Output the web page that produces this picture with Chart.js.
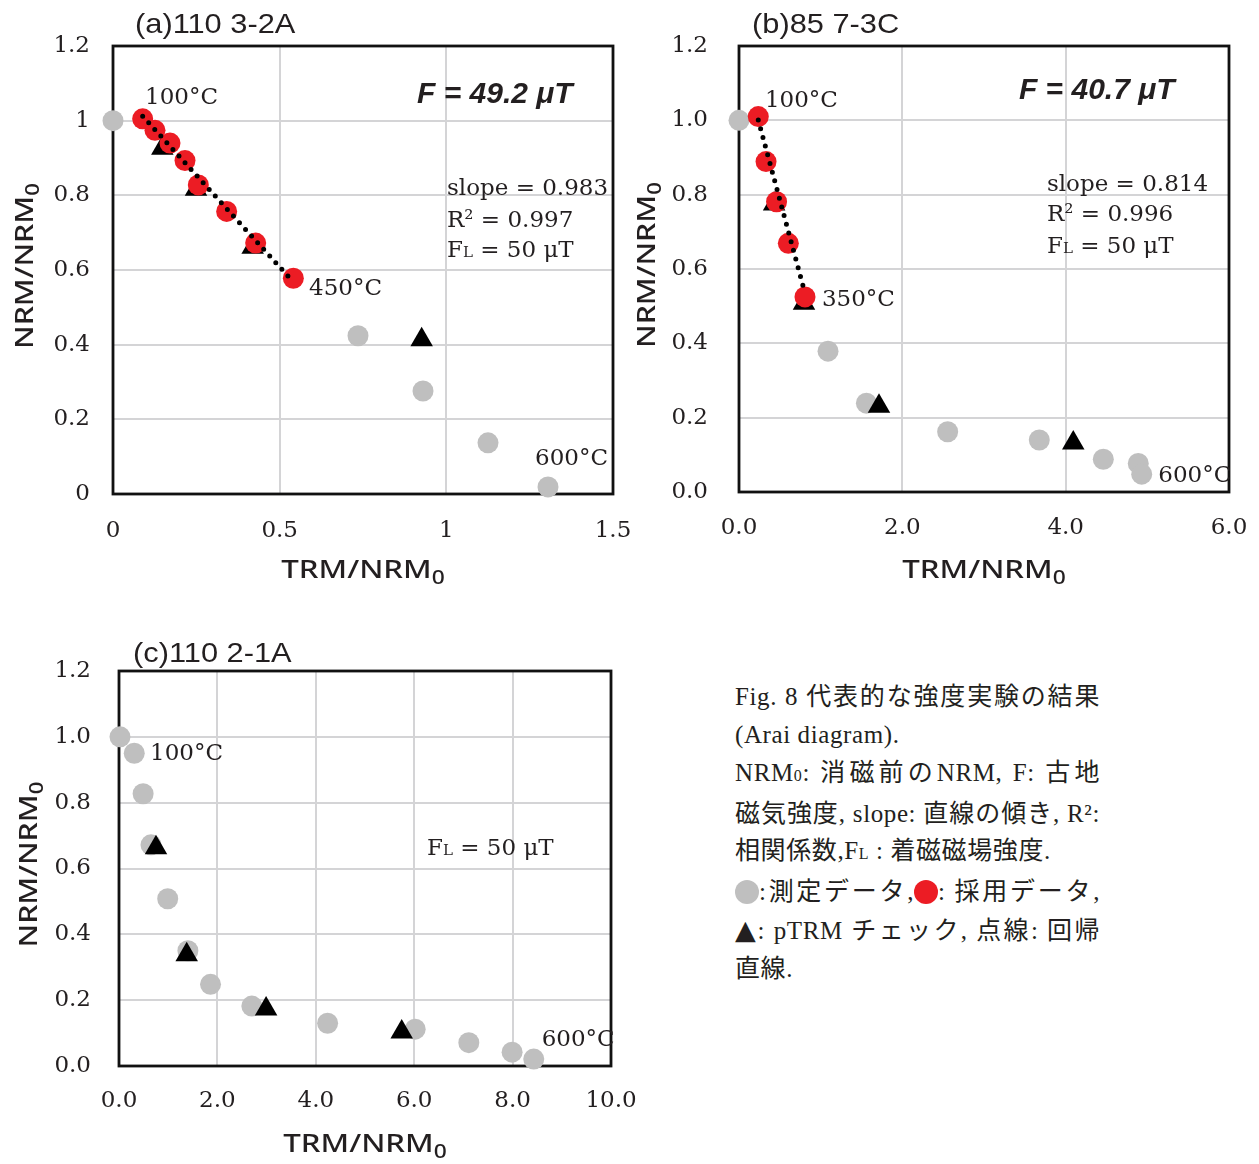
<!DOCTYPE html>
<html>
<head>
<meta charset="utf-8">
<title>Arai diagrams</title>
<script src="https://cdn.jsdelivr.net/npm/chart.js@4.4.1/dist/chart.umd.min.js"></script>
<style>
  html, body { margin: 0; padding: 0; background: #fff; }
  body { position: relative; width: 1259px; height: 1164px; overflow: hidden; }
  canvas { position: absolute; }
  #cap {
    position: absolute; left: 735px; top: 678px;
    font-family: "Liberation Serif", "Noto Sans CJK JP", serif;
    font-size: 25px; line-height: 37.86px; color: #231f20; letter-spacing: 0.6px;
  }
  #cap div { white-space: nowrap; width: 365px; text-align: justify; text-align-last: justify; }
  #cap div.last { text-align-last: left; }
  #cap .sm { font-size: 16px; }
  #cap .dot { display: inline-block; width: 24px; height: 24px; border-radius: 50%; vertical-align: -4px; }
  #cap .tri { font-family: "DejaVu Sans"; font-size: 27px; letter-spacing: 0; }
</style>
</head>
<body>
<canvas id="chartA" width="640" height="610" style="left:0;top:0;width:640px;height:610px"></canvas>
<canvas id="chartB" width="634" height="610" style="left:625px;top:0;width:634px;height:610px"></canvas>
<canvas id="chartC" width="640" height="549" style="left:0;top:615px;width:640px;height:549px"></canvas>

<div id="cap">
  <div>Fig. 8 代表的な強度実験の結果</div>
  <div class="last">(Arai diagram).</div>
  <div>NRM<span class="sm">0</span>: 消磁前のNRM, F: 古地</div>
  <div>磁気強度, slope: 直線の傾き, R²:</div>
  <div class="last">相関係数,F<span class="sm">L</span> : 着磁磁場強度.</div>
  <div><span class="dot" style="background:#bfbfbf"></span>:測定データ,<span class="dot" style="background:#ec1c24"></span>: 採用データ,</div>
  <div><span class="tri">▲</span>: pTRM チェック, 点線: 回帰</div>
  <div class="last">直線.</div>
</div>

<script>
// ---------- (a) 110 3-2A ----------
const aGrayX = [0.0, 0.735, 0.93, 1.125, 1.305];
const aGrayY = [1.0, 0.424, 0.276, 0.137, 0.019];
const aRedX  = [0.089, 0.126, 0.171, 0.216, 0.256, 0.341, 0.428, 0.541];
const aRedY  = [1.005, 0.974, 0.940, 0.893, 0.828, 0.757, 0.672, 0.578];
const aPtrmX = [0.148, 0.249, 0.419, 0.926];
const aPtrmY = [0.926, 0.816, 0.661, 0.413];
const aSlope = 0.983, aR2 = 0.997, aF = 49.2, aFL = 50;
const aFitAnchor = [0.315, 0.79];
const aFitRange  = [0.089, 0.541];
const aXTicks = ['0', '0.5', '1', '1.5'];
const aYTicks = ['0', '0.2', '0.4', '0.6', '0.8', '1', '1.2'];

// ---------- (b) 85 7-3C ----------
const bGrayX = [0.0, 1.09, 1.56, 2.555, 3.677, 4.461, 4.889, 4.931];
const bGrayY = [1.0, 0.379, 0.239, 0.162, 0.140, 0.088, 0.077, 0.048];
const bRedX  = [0.236, 0.331, 0.46, 0.604, 0.808];
const bRedY  = [1.01, 0.889, 0.781, 0.669, 0.525];
const bPtrmX = [0.43, 0.796, 1.714, 4.093];
const bPtrmY = [0.775, 0.508, 0.231, 0.132];
const bSlope = 0.814, bR2 = 0.996, bF = 40.7, bFL = 50;
const bFitAnchor = [0.522, 0.768];
const bFitRange  = [0.236, 0.808];
const bXTicks = ['0.0', '2.0', '4.0', '6.0'];
const bYTicks = ['0.0', '0.2', '0.4', '0.6', '0.8', '1.0', '1.2'];

// ---------- (c) 110 2-1A ----------
const cGrayX = [0.02, 0.31, 0.49, 0.65, 0.99, 1.40, 1.86, 2.70, 4.24, 6.02, 7.11, 7.99, 8.43];
const cGrayY = [1.0, 0.950, 0.827, 0.672, 0.508, 0.35, 0.248, 0.182, 0.130, 0.112, 0.071, 0.042, 0.021];
const cPtrmX = [0.752, 1.376, 2.99, 5.746];
const cPtrmY = [0.663, 0.338, 0.173, 0.103];
const cFL = 50;
const cXTicks = ['0.0', '2.0', '4.0', '6.0', '8.0', '10.0'];
const cYTicks = ['0.0', '0.2', '0.4', '0.6', '0.8', '1.0', '1.2'];

// ---------- styling ----------
const GRAY = '#bfbfbf', RED = '#ec1c24', INK = '#231f20', GRID = '#d4d4d6';
const LBL = '23px "DejaVu Serif"';
const LBL_SM = '15px "DejaVu Serif"';
const BIG = 'italic bold 30px "Liberation Sans"';
const AX = '500 26px "Noto Sans"';
const AX_SUB = '500 19px "Noto Sans"';
const TITLE = '28px "Liberation Sans"';

const zip = (xs, ys) => xs.map((x, i) => ({ x, y: ys[i] }));
const fitLine = (slope, anchor, range) => range.map(x => ({ x, y: anchor[1] - slope * (x - anchor[0]) }));

const txt = t => [{ t, font: LBL }];
const flText = v => [{ t: 'F', font: LBL }, { t: 'L', font: LBL_SM }, { t: ` = ${v} μT`, font: LBL }];
const axisText = t => [{ t, font: AX }, { t: '0', font: AX_SUB, dy: 6 }];

function drawRich(ctx, segs, align) {
  let w = 0;
  for (const s of segs) { ctx.font = s.font; w += ctx.measureText(s.t).width; }
  let cx = align === 'center' ? -w / 2 : align === 'right' ? -w : 0;
  ctx.textAlign = 'left';
  ctx.textBaseline = 'alphabetic';
  for (const s of segs) {
    ctx.font = s.font;
    ctx.fillText(s.t, cx, s.dy || 0);
    cx += ctx.measureText(s.t).width;
  }
}

function putText(ctx, segs, x, y, opts = {}) {
  ctx.save();
  ctx.translate(x, y);
  if (opts.rot) ctx.rotate(opts.rot);
  ctx.scale(opts.sx || 1, 1);
  ctx.fillStyle = INK;
  drawRich(ctx, segs, opts.align || 'left');
  ctx.restore();
}

// frame around the plot area, drawn under the markers
const framePlugin = {
  id: 'frame',
  beforeDatasetsDraw(chart) {
    const { ctx, chartArea: a } = chart;
    ctx.save();
    ctx.strokeStyle = '#111';
    ctx.lineWidth = 2.8;
    ctx.strokeRect(a.left, a.top, a.right - a.left, a.bottom - a.top);
    ctx.restore();
  }
};

// titles, axis titles and in-plot annotations
const textPlugin = {
  id: 'texts',
  afterDatasetsDraw(chart, args, o) {
    const { ctx, chartArea: a, scales } = chart;
    putText(ctx, [{ t: o.title, font: TITLE }], a.left + o.titleDx, a.top + o.titleDy, { sx: 1.1 });
    putText(ctx, axisText('TRM/NRM'), (a.left + a.right) / 2, a.bottom + o.xTitleDy, { align: 'center', sx: 1.2 });
    putText(ctx, axisText('NRM/NRM'), a.left - o.yTitleDx, (a.top + a.bottom) / 2 - 4,
      { align: 'center', sx: 1.17, rot: -Math.PI / 2 });
    for (const l of o.labels) {
      putText(ctx, l.segs, scales.x.getPixelForValue(l.x), scales.y.getPixelForValue(l.y), { align: l.align });
    }
  }
};

function build(id, d) {
  const datasets = [];
  if (d.fit) datasets.push({
    data: d.fit, showLine: true, pointRadius: 0, borderColor: '#000', borderWidth: 5,
    borderDash: [0, 9], borderCapStyle: 'round', clip: false
  });
  if (d.red) datasets.push({ data: d.red, pointRadius: 10.5, pointBackgroundColor: RED, pointBorderWidth: 0, clip: false });
  datasets.push({ data: d.ptrm, pointStyle: 'triangle', pointRadius: 13, pointBackgroundColor: '#000', pointBorderWidth: 0, clip: false });
  datasets.push({ data: d.gray, pointRadius: 10.5, pointBackgroundColor: GRAY, pointBorderWidth: 0, clip: false });

  return new Chart(document.getElementById(id), {
    type: 'scatter',
    data: { datasets },
    options: {
      responsive: false, animation: false, devicePixelRatio: 1, events: [],
      layout: { padding: { top: d.area.top, right: d.area.right, left: 0, bottom: 0 } },
      plugins: { legend: { display: false }, tooltip: { enabled: false }, texts: d.texts },
      scales: {
        x: {
          type: 'linear', min: d.xMin, max: d.xMax,
          ticks: {
            stepSize: d.xStep, padding: d.xPad, color: INK, font: { family: '"DejaVu Serif"', size: 23 },
            maxRotation: 0, autoSkip: false, callback: (v, i) => d.xTicks[i]
          },
          grid: { color: GRID, lineWidth: 2, drawTicks: false },
          border: { display: false },
          afterFit(s) { s.height = d.area.xh; s.paddingLeft = 0; s.paddingRight = 0; }
        },
        y: {
          type: 'linear', min: 0, max: 1.2,
          ticks: {
            stepSize: 0.2, padding: d.yPad, color: INK, font: { family: '"DejaVu Serif"', size: 23 },
            autoSkip: false, callback: (v, i) => d.yTicks[i]
          },
          grid: { color: GRID, lineWidth: 2, drawTicks: false },
          border: { display: false },
          afterFit(s) { s.width = d.area.left; s.paddingTop = 0; s.paddingBottom = 0; }
        }
      }
    },
    plugins: [framePlugin, textPlugin]
  });
}

build('chartA', {
  gray: zip(aGrayX, aGrayY), red: zip(aRedX, aRedY), ptrm: zip(aPtrmX, aPtrmY),
  fit: fitLine(aSlope, aFitAnchor, aFitRange),
  xMin: 0, xMax: 1.5, xStep: 0.5, xTicks: aXTicks, yTicks: aYTicks, xPad: 23, yPad: 23,
  area: { left: 113, top: 46, right: 27, xh: 116 },
  texts: {
    title: '(a)110 3-2A', titleDx: 22, titleDy: -13, xTitleDy: 84, yTitleDx: 80,
    labels: [
      { segs: txt('100°C'), x: 0.096, y: 1.045 },
      { segs: txt('450°C'), x: 0.588, y: 0.533 },
      { segs: txt('600°C'), x: 1.266, y: 0.078 },
      { segs: [{ t: `F = ${aF} μT`, font: BIG }], x: 0.912, y: 1.046 },
      { segs: txt(`slope = ${aSlope.toFixed(3)}`), x: 1.002, y: 0.801 },
      { segs: txt(`R² = ${aR2.toFixed(3)}`), x: 1.002, y: 0.716 },
      { segs: flText(aFL), x: 1.002, y: 0.636 }
    ]
  }
});

build('chartB', {
  gray: zip(bGrayX, bGrayY), red: zip(bRedX, bRedY), ptrm: zip(bPtrmX, bPtrmY),
  fit: fitLine(bSlope, bFitAnchor, bFitRange),
  xMin: 0, xMax: 6, xStep: 2, xTicks: bXTicks, yTicks: bYTicks, xPad: 22, yPad: 31,
  area: { left: 114, top: 46, right: 30, xh: 118 },
  texts: {
    title: '(b)85 7-3C', titleDx: 13, titleDy: -13, xTitleDy: 86, yTitleDx: 84,
    labels: [
      { segs: txt('100°C'), x: 0.318, y: 1.036 },
      { segs: txt('350°C'), x: 1.016, y: 0.50 },
      { segs: txt('600°C'), x: 5.134, y: 0.026 },
      { segs: [{ t: `F = ${bF} μT`, font: BIG }], x: 3.428, y: 1.057 },
      { segs: txt(`slope = ${bSlope.toFixed(3)}`), x: 3.771, y: 0.810 },
      { segs: txt(`R² = ${bR2.toFixed(3)}`), x: 3.771, y: 0.729 },
      { segs: flText(bFL), x: 3.771, y: 0.643 }
    ]
  }
});

build('chartC', {
  gray: zip(cGrayX, cGrayY), ptrm: zip(cPtrmX, cPtrmY),
  xMin: 0, xMax: 10, xStep: 2, xTicks: cXTicks, yTicks: cYTicks, xPad: 21, yPad: 28,
  area: { left: 119, top: 56, right: 29, xh: 98 },
  texts: {
    title: '(c)110 2-1A', titleDx: 14, titleDy: -9, xTitleDy: 86, yTitleDx: 82,
    labels: [
      { segs: txt('100°C'), x: 0.63, y: 0.93 },
      { segs: txt('600°C'), x: 8.59, y: 0.062 },
      { segs: flText(cFL), x: 6.26, y: 0.641 }
    ]
  }
});
</script>
</body>
</html>
